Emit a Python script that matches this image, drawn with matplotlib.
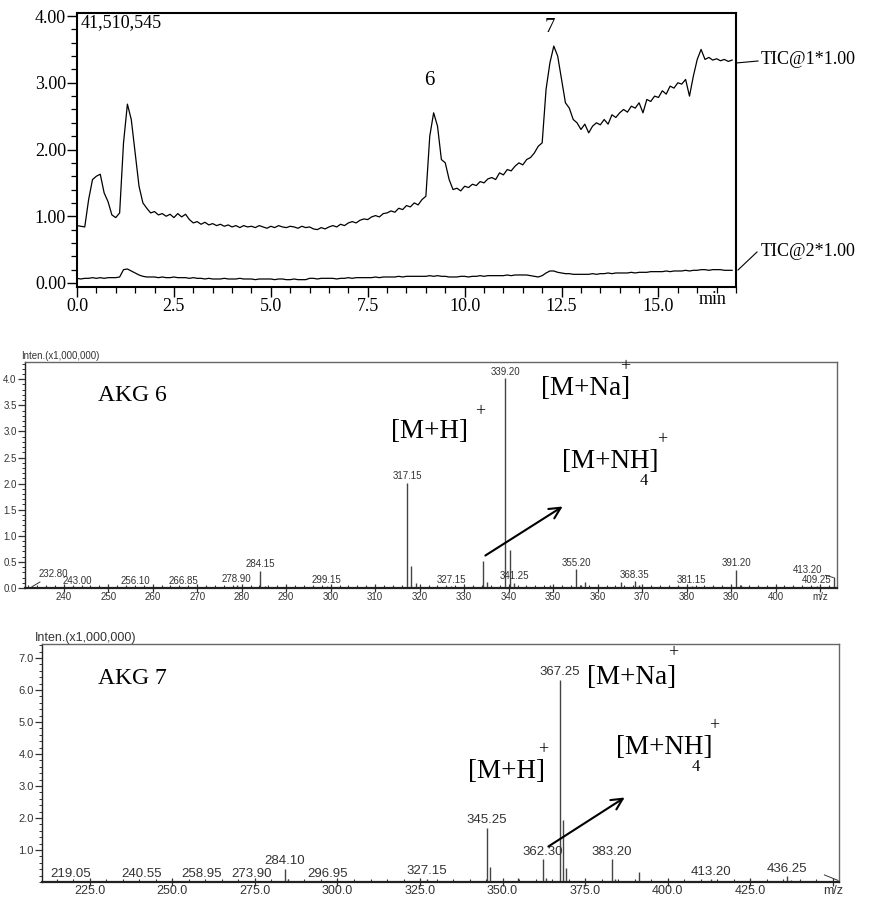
import matplotlib.pyplot as plt
import numpy as np
from matplotlib.ticker import MultipleLocator, FuncFormatter, FixedLocator
from matplotlib.lines import Line2D
from matplotlib.patches import FancyArrowPatch

W, H = 870, 897

# TIC chromatogram, read every 0.1 min
tic_time = np.round(np.arange(0, 17.0, 0.1), 1)
tic1 = [
    0.86, 0.85, 0.84, 1.25, 1.55, 1.60, 1.63, 1.35, 1.22, 1.02,
    0.98, 1.05, 2.10, 2.68, 2.45, 1.95, 1.45, 1.20, 1.12, 1.05,
    1.07, 1.02, 1.04, 1.00, 1.03, 0.98, 1.04, 0.99, 1.03, 0.95,
    0.90, 0.92, 0.88, 0.91, 0.87, 0.89, 0.86, 0.88, 0.85, 0.87,
    0.84, 0.86, 0.83, 0.86, 0.84, 0.85, 0.83, 0.86, 0.84, 0.82,
    0.85, 0.83, 0.86, 0.84, 0.83, 0.85, 0.84, 0.82, 0.85, 0.83,
    0.84, 0.81, 0.80, 0.83, 0.81, 0.84, 0.86, 0.84, 0.88, 0.86,
    0.90, 0.92, 0.90, 0.94, 0.96, 0.95, 0.99, 1.01, 0.99, 1.04,
    1.05, 1.08, 1.06, 1.12, 1.10, 1.16, 1.14, 1.20, 1.17, 1.25,
    1.30, 2.20, 2.55, 2.35, 1.85, 1.80, 1.55, 1.40, 1.42, 1.38,
    1.45, 1.43, 1.48, 1.46, 1.52, 1.50, 1.56, 1.58, 1.55, 1.65,
    1.62, 1.70, 1.68, 1.75, 1.80, 1.77, 1.85, 1.88, 1.95, 2.05,
    2.10, 2.90, 3.30, 3.55, 3.40, 3.05, 2.70, 2.62, 2.45, 2.40,
    2.30, 2.38, 2.25, 2.35, 2.40, 2.37, 2.45, 2.38, 2.52, 2.48,
    2.55, 2.60, 2.56, 2.65, 2.62, 2.70, 2.55, 2.75, 2.72, 2.80,
    2.78, 2.88, 2.83, 2.95, 2.92, 3.00, 2.98, 3.05, 2.80, 3.10,
    3.35, 3.50, 3.35, 3.38, 3.34, 3.36, 3.33, 3.35, 3.32, 3.34,
]
tic2 = [
    0.07, 0.06, 0.07, 0.07, 0.08, 0.07, 0.08, 0.07, 0.08, 0.08,
    0.08, 0.09, 0.20, 0.21, 0.18, 0.15, 0.12, 0.10, 0.09, 0.09,
    0.09, 0.08, 0.09, 0.08, 0.08, 0.09, 0.08, 0.08, 0.08, 0.07,
    0.08, 0.07, 0.07, 0.06, 0.07, 0.06, 0.06, 0.06, 0.07, 0.06,
    0.06, 0.06, 0.07, 0.06, 0.06, 0.06, 0.05, 0.06, 0.06, 0.06,
    0.06, 0.05, 0.06, 0.06, 0.05, 0.05, 0.06, 0.05, 0.05, 0.05,
    0.07, 0.07, 0.06, 0.07, 0.07, 0.07, 0.07, 0.06, 0.07, 0.07,
    0.08, 0.07, 0.08, 0.08, 0.08, 0.08, 0.08, 0.09, 0.08, 0.09,
    0.09, 0.09, 0.09, 0.10, 0.09, 0.10, 0.10, 0.10, 0.10, 0.10,
    0.10, 0.11, 0.10, 0.11, 0.10, 0.10, 0.09, 0.09, 0.09, 0.10,
    0.10, 0.09, 0.10, 0.10, 0.11, 0.10, 0.11, 0.11, 0.11, 0.11,
    0.11, 0.12, 0.11, 0.12, 0.12, 0.12, 0.12, 0.11, 0.10, 0.09,
    0.11, 0.15, 0.18, 0.18, 0.16, 0.15, 0.14, 0.14, 0.13, 0.13,
    0.13, 0.13, 0.13, 0.14, 0.13, 0.14, 0.14, 0.15, 0.14, 0.15,
    0.15, 0.15, 0.15, 0.16, 0.15, 0.16, 0.16, 0.16, 0.17, 0.17,
    0.17, 0.17, 0.18, 0.17, 0.18, 0.18, 0.18, 0.19, 0.18, 0.19,
    0.19, 0.20, 0.20, 0.19, 0.20, 0.20, 0.20, 0.19, 0.19, 0.19,
]
tic_peaks = ['6', '7']
tic_peak_pos = [(9.1, 3.04), (12.2, 3.83)]

# mass spectrum of peak 6 (intensity x1,000,000)
ms6_mz = [232.80, 243.00, 256.10, 266.85, 278.90, 284.15, 285.15, 299.15,
          317.15, 318.15, 319.15, 327.15, 334.20, 335.20, 339.20, 340.20,
          341.25, 349.20, 355.20, 356.20, 357.20, 365.20, 368.35, 369.30,
          381.15, 391.20, 392.20, 409.25, 413.20]
ms6_int = [0.02, 0.02, 0.02, 0.01, 0.05, 0.33, 0.03, 0.03,
           2.02, 0.42, 0.10, 0.03, 0.52, 0.12, 4.02, 0.72,
           0.10, 0.05, 0.36, 0.06, 0.12, 0.12, 0.13, 0.06,
           0.03, 0.35, 0.06, 0.03, 0.22]
ms6_labels = ['243.00', '256.10', '266.85', '278.90', '284.15', '299.15',
              '317.15', '327.15', '339.20', '341.25', '355.20', '368.35',
              '381.15', '391.20', '409.25']

# mass spectrum of peak 7
ms7_mz = [219.05, 240.55, 258.95, 273.90, 284.10, 285.10, 296.95, 312.00,
          327.15, 345.25, 346.25, 354.60, 362.30, 363.30, 367.25, 368.25,
          369.25, 383.20, 384.20, 391.20, 413.20, 436.25, 437.30]
ms7_int = [0.02, 0.02, 0.02, 0.03, 0.41, 0.08, 0.03, 0.03,
           0.10, 1.70, 0.46, 0.12, 0.72, 0.12, 6.32, 1.94,
           0.44, 0.72, 0.10, 0.31, 0.08, 0.19, 0.06]
ms7_labels = ['219.05', '240.55', '258.95', '273.90', '284.10', '296.95',
              '327.15', '345.25', '362.30', '367.25', '383.20', '413.20',
              '436.25']

SERIF = 'Liberation Serif'
SANS = 'Liberation Sans'
GREY = '#333333'

fig = plt.figure(figsize=(8.7, 8.97), dpi=100)


def fx(x, y):
    return x / W, 1 - y / H


def ftext(x, y, s, **kw):
    fig.text(x / W, 1 - y / H, s, **kw)


# ---------- TIC ----------
ax1 = fig.add_axes([77 / W, 1 - 287 / H, (736 - 77) / W, (287 - 12.7) / H])
ax1.plot(tic_time, tic1, color='black', lw=0.9)
ax1.plot(tic_time, tic2, color='black', lw=0.9)
ax1.set_xlim(0, 17.0)
ax1.set_ylim(-0.06, 4.05)
ax1.xaxis.set_major_locator(FixedLocator([0, 2.5, 5, 7.5, 10, 12.5, 15]))
ax1.xaxis.set_minor_locator(MultipleLocator(0.5))
ax1.yaxis.set_major_locator(MultipleLocator(1.0))
ax1.yaxis.set_minor_locator(MultipleLocator(0.2))
ax1.xaxis.set_major_formatter(FuncFormatter(lambda v, p: '%.1f' % v))
ax1.yaxis.set_major_formatter(FuncFormatter(lambda v, p: '%.2f' % v))
ax1.tick_params(which='major', direction='out', length=7, width=1.0, labelsize=13, pad=1)
ax1.tick_params(which='minor', direction='out', length=4, width=0.9)
for lab in ax1.get_xticklabels() + ax1.get_yticklabels():
    lab.set_fontfamily(SERIF)
for sp in ax1.spines.values():
    sp.set_linewidth(1.5)
ax1.text(16.4, -0.12, 'min', fontsize=13, family=SERIF, ha='center', va='top')
ax1.text(0.006, 0.995, '41,510,545', transform=ax1.transAxes, fontsize=13,
         family=SERIF, ha='left', va='top')
for s, (x, y) in zip(tic_peaks, tic_peak_pos):
    ax1.text(x, y, s, fontsize=15, family=SERIF, ha='center', va='center')
fig.add_artist(Line2D(*zip(fx(736, 63), fx(758, 61)), color='black', lw=0.8))
ftext(761, 60, 'TIC@1*1.00', fontsize=13, family=SERIF, va='center')
fig.add_artist(Line2D(*zip(fx(738, 270), fx(757, 252)), color='black', lw=0.8))
ftext(761, 251, 'TIC@2*1.00', fontsize=13, family=SERIF, va='center')


# ---------- mass spectra ----------
def draw_ms(ax, mz, inten, labels, lab_fs, tick_fs, last_tick, decimals):
    ax.vlines(mz, 0, inten, color='#444444', lw=1.0)
    for m, v in zip(mz, inten):
        s = '%.2f' % m
        if s in labels:
            ax.annotate(s, (m, v), xytext=(0, 1), textcoords='offset points',
                        ha='center', va='bottom', fontsize=lab_fs, family=SANS, color=GREY)
    fmt = '%.' + str(decimals) + 'f'
    ax.xaxis.set_major_formatter(FuncFormatter(
        lambda v, p: 'm/z' if abs(v - last_tick) < 1e-6 else fmt % v))
    ax.yaxis.set_major_formatter(FuncFormatter(lambda v, p: '%.1f' % v))
    ax.tick_params(axis='x', which='major', direction='inout', length=6, width=0.9,
                   labelsize=tick_fs, colors=GREY, pad=0)
    ax.tick_params(axis='x', which='minor', direction='in', length=2.5, width=0.8, colors=GREY)
    ax.tick_params(axis='y', which='major', direction='out', length=5, width=0.9,
                   labelsize=tick_fs, colors=GREY, pad=1)
    ax.tick_params(axis='y', which='minor', direction='out', length=2.5, width=0.7, colors=GREY)
    for lab in ax.get_xticklabels() + ax.get_yticklabels():
        lab.set_fontfamily(SANS)
    for sp in ax.spines.values():
        sp.set_color('#666666')
        sp.set_linewidth(1.0)
    ax.spines['bottom'].set_color('#222222')
    ax.spines['bottom'].set_linewidth(1.6)
    ax.spines['left'].set_color('#222222')


ax2 = fig.add_axes([25 / W, 1 - 588 / H, (837 - 25) / W, (588 - 362) / H])
ax2.set_xlim(231.3, 413.8)
ax2.set_ylim(0, 4.33)
ax2.xaxis.set_major_locator(FixedLocator(np.arange(240, 411, 10)))
ax2.xaxis.set_minor_locator(MultipleLocator(2))
ax2.yaxis.set_major_locator(MultipleLocator(0.5))
ax2.yaxis.set_minor_locator(MultipleLocator(0.1))
draw_ms(ax2, ms6_mz, ms6_int, ms6_labels, 7, 7, 410, 0)
ax2.annotate('232.80', (232.8, 0.02), xytext=(237.6, 0.17), ha='center', va='bottom',
             fontsize=7, family=SANS, color=GREY,
             arrowprops=dict(arrowstyle='-', color=GREY, lw=0.7, shrinkA=0, shrinkB=0))
ax2.annotate('413.20', (413.0, 0.2), xytext=(407.2, 0.24), ha='center', va='bottom',
             fontsize=7, family=SANS, color=GREY,
             arrowprops=dict(arrowstyle='-', color=GREY, lw=0.7, shrinkA=0, shrinkB=0))
ftext(21, 356, 'Inten.(x1,000,000)', fontsize=7, family=SANS, color=GREY, va='center')

ax3 = fig.add_axes([42 / W, 1 - 882 / H, (839 - 42) / W, (882 - 644) / H])
ax3.set_xlim(210.5, 451.9)
ax3.set_ylim(0, 7.44)
ax3.xaxis.set_major_locator(FixedLocator(np.arange(225, 451, 25)))
ax3.xaxis.set_minor_locator(MultipleLocator(5))
ax3.yaxis.set_major_locator(FixedLocator(np.arange(1, 8, 1)))
ax3.yaxis.set_minor_locator(MultipleLocator(0.2))
draw_ms(ax3, ms7_mz, ms7_int, ms7_labels, 9.5, 9, 450, 1)
ax3.tick_params(axis='y', labelsize=8)
ax3.tick_params(axis='x', pad=-0.5)
ax3.plot([447.5, 451.6], [0.22, 0.05], color=GREY, lw=0.7)
ftext(35, 638, 'Inten.(x1,000,000)', fontsize=9, family=SANS, color=GREY, va='center')

# ion annotations (pixel positions on the figure)
ann = dict(family=SERIF, color='black', va='center', ha='left')
sup = dict(family=SERIF, color='black', va='center', ha='center')
for (akg, y0), na, h, nh, arr in [
        (('AKG 6', 395), (541, 388, 625, 367), (391, 431, 480, 412),
         (562, 461, 662, 440, 644, 481), (483, 557, 565, 505)),
        (('AKG 7', 678), (587, 677, 673, 653), (468, 771, 543, 750),
         (616, 747, 714, 726, 696, 767), (546, 848, 627, 796))]:
    ftext(98, y0, akg, fontsize=17, **ann)
    ftext(na[0], na[1], '[M+Na]', fontsize=19.5, **ann)
    ftext(na[2], na[3], '+', fontsize=13, **sup)
    ftext(h[0], h[1], '[M+H]', fontsize=19.5, **ann)
    ftext(h[2], h[3], '+', fontsize=13, **sup)
    ftext(nh[0], nh[1], '[M+NH]', fontsize=19.5, **ann)
    ftext(nh[2], nh[3], '+', fontsize=13, **sup)
    ftext(nh[4], nh[5], '4', fontsize=12, **sup)
    fig.add_artist(FancyArrowPatch(
        fx(arr[0], arr[1]), fx(arr[2], arr[3]), transform=fig.transFigure,
        arrowstyle='->,head_length=8,head_width=4', color='black', lw=1.5,
        mutation_scale=1))

fig.savefig('out.png', dpi=100)
